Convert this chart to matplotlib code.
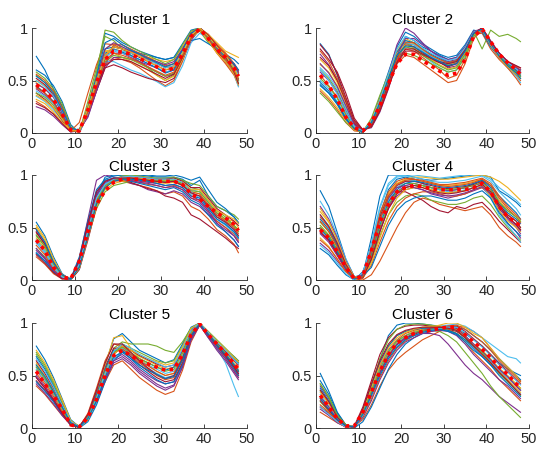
import numpy as np
import matplotlib
matplotlib.use("Agg")
import matplotlib.pyplot as plt

X = [1, 3, 5, 7, 9, 11, 13, 15, 17, 19, 21, 23, 25, 27, 29, 31, 33, 35, 37, 39, 41, 43, 45, 47, 48]

titles = ["Cluster 1", "Cluster 2", "Cluster 3", "Cluster 4", "Cluster 5", "Cluster 6"]

cluster1 = [
    [0.60,0.55,0.45,0.30,0.08,0.00,0.18,0.55,0.95,0.92,0.86,0.82,0.78,0.75,0.72,0.70,0.72,0.85,0.98,1.00,0.92,0.82,0.75,0.70,0.66],
    [0.30,0.25,0.18,0.10,0.02,0.01,0.20,0.45,0.65,0.72,0.70,0.67,0.62,0.56,0.50,0.45,0.50,0.68,0.90,0.98,0.88,0.76,0.66,0.55,0.45],
    [0.50,0.45,0.38,0.22,0.05,0.02,0.25,0.52,0.80,0.85,0.82,0.78,0.74,0.70,0.66,0.63,0.66,0.80,0.95,1.00,0.92,0.82,0.75,0.64,0.58],
    [0.42,0.36,0.28,0.15,0.03,0.03,0.15,0.40,0.62,0.72,0.72,0.70,0.68,0.65,0.62,0.58,0.60,0.72,0.90,1.00,0.94,0.84,0.74,0.62,0.52],
    [0.55,0.48,0.40,0.26,0.06,0.00,0.30,0.62,0.92,0.88,0.80,0.74,0.68,0.62,0.55,0.50,0.55,0.72,0.93,0.97,0.86,0.78,0.68,0.58,0.48],
    [0.35,0.30,0.22,0.12,0.02,0.04,0.20,0.42,0.68,0.68,0.64,0.60,0.57,0.53,0.49,0.44,0.48,0.64,0.86,0.95,0.90,0.80,0.70,0.56,0.44],
    [0.38,0.32,0.24,0.12,0.02,0.02,0.18,0.40,0.62,0.65,0.62,0.58,0.55,0.52,0.50,0.48,0.52,0.70,0.92,1.00,0.90,0.78,0.68,0.56,0.50],
    [0.73,0.60,0.42,0.25,0.05,0.02,0.25,0.55,0.80,0.82,0.80,0.78,0.76,0.74,0.72,0.70,0.72,0.82,0.88,0.90,0.85,0.80,0.72,0.64,0.60],
    [0.45,0.38,0.30,0.16,0.02,0.10,0.38,0.65,0.85,0.84,0.80,0.77,0.74,0.70,0.66,0.62,0.64,0.78,0.94,1.00,0.92,0.84,0.76,0.66,0.58],
    [0.48,0.42,0.34,0.20,0.04,0.01,0.22,0.50,0.78,0.80,0.78,0.76,0.74,0.72,0.70,0.68,0.70,0.82,0.96,1.00,0.94,0.86,0.78,0.74,0.72],
    [0.25,0.22,0.16,0.08,0.01,0.02,0.16,0.40,0.66,0.76,0.76,0.72,0.68,0.63,0.58,0.54,0.56,0.70,0.88,0.99,0.92,0.82,0.72,0.60,0.50],
    [0.58,0.52,0.42,0.28,0.06,0.01,0.24,0.58,0.98,0.96,0.88,0.82,0.78,0.74,0.70,0.66,0.70,0.84,0.97,1.00,0.90,0.80,0.72,0.62,0.56],
    [0.40,0.35,0.28,0.16,0.03,0.02,0.22,0.48,0.72,0.78,0.76,0.73,0.70,0.66,0.62,0.58,0.60,0.74,0.92,0.99,0.91,0.80,0.72,0.60,0.50],
    [0.52,0.46,0.36,0.20,0.04,0.01,0.20,0.46,0.74,0.82,0.80,0.76,0.72,0.68,0.64,0.60,0.62,0.76,0.94,1.00,0.93,0.83,0.74,0.64,0.56],
    [0.44,0.38,0.30,0.17,0.03,0.02,0.24,0.52,0.76,0.80,0.77,0.74,0.70,0.66,0.62,0.57,0.60,0.74,0.92,1.00,0.90,0.80,0.70,0.60,0.52],
    [0.56,0.50,0.40,0.24,0.05,0.01,0.18,0.44,0.70,0.84,0.84,0.80,0.76,0.72,0.68,0.64,0.66,0.78,0.94,1.00,0.92,0.84,0.76,0.66,0.60],
    [0.32,0.28,0.20,0.10,0.02,0.03,0.26,0.54,0.78,0.76,0.72,0.68,0.64,0.60,0.55,0.50,0.54,0.70,0.90,0.98,0.88,0.76,0.68,0.56,0.46],
    [0.47,0.42,0.34,0.19,0.04,0.01,0.20,0.50,0.80,0.86,0.82,0.78,0.75,0.71,0.68,0.65,0.68,0.80,0.95,1.00,0.90,0.80,0.72,0.64,0.58],
    [0.38,0.34,0.26,0.14,0.02,0.02,0.22,0.46,0.68,0.74,0.72,0.70,0.66,0.62,0.58,0.54,0.57,0.72,0.90,0.99,0.92,0.82,0.72,0.60,0.50],
    [0.50,0.44,0.35,0.21,0.05,0.01,0.19,0.47,0.72,0.79,0.78,0.76,0.73,0.69,0.66,0.62,0.64,0.77,0.93,1.00,0.91,0.81,0.73,0.63,0.55],
    [0.28,0.24,0.18,0.09,0.01,0.03,0.21,0.44,0.64,0.70,0.70,0.68,0.64,0.60,0.56,0.52,0.56,0.72,0.91,1.00,0.93,0.83,0.73,0.58,0.47],
    [0.54,0.48,0.38,0.22,0.05,0.02,0.24,0.54,0.86,0.90,0.84,0.79,0.75,0.71,0.67,0.63,0.66,0.79,0.95,1.00,0.91,0.81,0.73,0.66,0.60],
    [0.43,0.38,0.29,0.16,0.03,0.02,0.20,0.45,0.70,0.76,0.74,0.71,0.67,0.63,0.59,0.55,0.58,0.73,0.91,0.99,0.90,0.79,0.70,0.59,0.51],
    [0.36,0.31,0.24,0.13,0.02,0.02,0.23,0.50,0.74,0.82,0.80,0.77,0.73,0.68,0.64,0.60,0.63,0.76,0.93,1.00,0.92,0.82,0.74,0.62,0.53],
]
mean1 = [0.46,0.40,0.32,0.18,0.03,0.02,0.22,0.48,0.70,0.78,0.77,0.75,0.71,0.67,0.63,0.59,0.62,0.75,0.92,0.99,0.90,0.80,0.72,0.62,0.54]

cluster2 = [
    [0.85,0.75,0.55,0.30,0.10,0.02,0.08,0.25,0.50,0.75,0.92,0.88,0.82,0.78,0.74,0.70,0.72,0.82,0.96,0.98,0.84,0.74,0.66,0.62,0.60],
    [0.40,0.32,0.22,0.10,0.02,0.01,0.10,0.28,0.48,0.70,0.80,0.78,0.72,0.66,0.60,0.52,0.55,0.70,0.94,0.95,0.80,0.70,0.62,0.55,0.50],
    [0.65,0.58,0.45,0.25,0.08,0.02,0.12,0.32,0.55,0.80,0.90,0.86,0.80,0.74,0.70,0.66,0.68,0.80,0.96,0.99,0.86,0.75,0.66,0.60,0.58],
    [0.75,0.65,0.50,0.30,0.10,0.03,0.05,0.20,0.42,0.68,0.85,0.84,0.78,0.72,0.68,0.62,0.64,0.76,0.92,1.00,0.88,0.76,0.68,0.62,0.58],
    [0.60,0.52,0.40,0.22,0.06,0.01,0.10,0.30,0.52,0.76,0.86,0.82,0.76,0.72,0.68,0.65,0.68,0.80,0.97,0.80,0.98,0.92,0.94,0.90,0.87],
    [0.50,0.42,0.30,0.15,0.04,0.01,0.08,0.26,0.50,0.72,0.82,0.80,0.74,0.68,0.62,0.58,0.60,0.74,0.94,0.98,0.84,0.72,0.62,0.54,0.48],
    [0.80,0.70,0.58,0.38,0.14,0.03,0.06,0.22,0.45,0.66,0.78,0.78,0.74,0.70,0.67,0.64,0.67,0.78,0.95,1.00,0.87,0.76,0.68,0.64,0.62],
    [0.45,0.38,0.28,0.14,0.04,0.00,0.12,0.34,0.58,0.82,0.96,0.92,0.85,0.80,0.75,0.72,0.74,0.84,0.98,0.96,0.82,0.72,0.64,0.58,0.54],
    [0.55,0.45,0.34,0.18,0.05,0.01,0.08,0.24,0.46,0.66,0.74,0.72,0.66,0.60,0.54,0.48,0.50,0.66,0.90,0.98,0.84,0.72,0.62,0.52,0.46],
    [0.70,0.62,0.48,0.28,0.08,0.02,0.10,0.30,0.54,0.78,0.88,0.85,0.79,0.74,0.70,0.66,0.67,0.78,0.96,0.98,0.85,0.74,0.66,0.60,0.56],
    [0.58,0.50,0.38,0.20,0.06,0.02,0.10,0.30,0.56,0.84,1.00,0.95,0.86,0.78,0.72,0.68,0.70,0.80,0.95,0.97,0.86,0.76,0.68,0.62,0.58],
    [0.38,0.30,0.20,0.10,0.03,0.01,0.14,0.36,0.56,0.72,0.76,0.74,0.70,0.66,0.62,0.58,0.60,0.72,0.92,0.99,0.86,0.74,0.64,0.56,0.52],
    [0.62,0.54,0.42,0.24,0.07,0.02,0.09,0.28,0.52,0.76,0.86,0.84,0.78,0.73,0.69,0.66,0.68,0.78,0.95,0.99,0.86,0.75,0.67,0.61,0.58],
    [0.72,0.64,0.50,0.30,0.09,0.02,0.07,0.24,0.47,0.72,0.84,0.82,0.76,0.71,0.67,0.63,0.66,0.78,0.95,1.00,0.86,0.75,0.66,0.60,0.57],
    [0.48,0.40,0.29,0.14,0.04,0.01,0.11,0.30,0.53,0.77,0.88,0.86,0.80,0.75,0.71,0.67,0.69,0.80,0.96,0.98,0.85,0.74,0.66,0.59,0.55],
    [0.78,0.68,0.52,0.32,0.11,0.03,0.06,0.22,0.44,0.70,0.86,0.86,0.80,0.74,0.70,0.67,0.69,0.80,0.96,0.99,0.86,0.75,0.67,0.63,0.60],
    [0.42,0.34,0.24,0.12,0.03,0.01,0.12,0.32,0.54,0.76,0.84,0.81,0.75,0.70,0.65,0.61,0.63,0.76,0.94,0.98,0.84,0.72,0.63,0.56,0.52],
    [0.66,0.57,0.44,0.26,0.08,0.02,0.08,0.26,0.50,0.74,0.90,0.90,0.84,0.78,0.73,0.70,0.72,0.82,0.97,0.99,0.86,0.76,0.68,0.62,0.60],
    [0.52,0.44,0.33,0.17,0.05,0.01,0.09,0.27,0.51,0.74,0.82,0.80,0.74,0.69,0.64,0.60,0.62,0.75,0.94,0.99,0.86,0.74,0.65,0.58,0.54],
    [0.60,0.50,0.37,0.20,0.06,0.02,0.11,0.31,0.56,0.80,0.92,0.88,0.81,0.76,0.72,0.69,0.71,0.81,0.96,0.99,0.85,0.75,0.67,0.61,0.57],
    [0.84,0.74,0.56,0.34,0.12,0.03,0.06,0.21,0.43,0.67,0.80,0.80,0.75,0.71,0.68,0.66,0.68,0.79,0.95,1.00,0.87,0.76,0.68,0.64,0.62],
    [0.46,0.38,0.27,0.13,0.04,0.01,0.10,0.29,0.52,0.74,0.83,0.82,0.77,0.72,0.68,0.64,0.66,0.78,0.95,0.99,0.85,0.73,0.64,0.57,0.52],
]
mean2 = [0.55,0.45,0.32,0.15,0.05,0.02,0.10,0.26,0.47,0.66,0.75,0.75,0.69,0.64,0.59,0.55,0.57,0.70,0.92,0.99,0.87,0.75,0.67,0.60,0.56]

cluster3 = [
    [0.55,0.42,0.22,0.06,0.00,0.10,0.42,0.80,0.98,1.00,1.00,1.00,1.00,0.99,0.98,0.98,0.98,0.96,0.90,0.95,0.80,0.70,0.66,0.60,0.55],
    [0.22,0.15,0.06,0.01,0.01,0.18,0.50,0.80,0.92,0.95,0.94,0.92,0.90,0.88,0.85,0.82,0.84,0.80,0.70,0.66,0.58,0.48,0.42,0.34,0.26],
    [0.40,0.30,0.14,0.03,0.00,0.14,0.45,0.74,0.88,0.95,0.97,0.97,0.96,0.95,0.95,0.94,0.95,0.90,0.82,0.80,0.72,0.64,0.58,0.50,0.46],
    [0.48,0.36,0.18,0.05,0.01,0.20,0.58,0.95,1.00,0.98,0.96,0.92,0.90,0.86,0.84,0.82,0.85,0.82,0.74,0.70,0.62,0.56,0.50,0.42,0.36],
    [0.30,0.22,0.10,0.02,0.00,0.12,0.40,0.68,0.84,0.90,0.92,0.94,0.95,0.96,0.96,0.96,0.97,0.95,0.92,0.90,0.80,0.70,0.66,0.62,0.58],
    [0.35,0.26,0.12,0.03,0.01,0.16,0.48,0.78,0.92,0.97,0.98,0.98,0.97,0.96,0.96,0.95,0.96,0.92,0.86,0.84,0.74,0.62,0.56,0.48,0.42],
    [0.45,0.34,0.16,0.04,0.00,0.10,0.38,0.70,0.90,0.96,0.95,0.93,0.90,0.87,0.85,0.80,0.78,0.74,0.62,0.58,0.52,0.46,0.40,0.33,0.30],
    [0.25,0.18,0.08,0.02,0.01,0.22,0.56,0.86,0.96,0.99,1.00,1.00,1.00,1.00,0.99,0.99,1.00,0.98,0.95,0.98,0.86,0.74,0.68,0.60,0.54],
    [0.38,0.28,0.12,0.03,0.00,0.14,0.44,0.76,0.90,0.94,0.95,0.94,0.93,0.91,0.90,0.88,0.90,0.86,0.78,0.76,0.66,0.56,0.50,0.44,0.38],
    [0.52,0.40,0.20,0.05,0.01,0.12,0.42,0.72,0.86,0.92,0.94,0.95,0.95,0.94,0.93,0.92,0.93,0.90,0.84,0.82,0.70,0.60,0.58,0.56,0.50],
    [0.28,0.20,0.09,0.02,0.00,0.16,0.50,0.82,0.94,0.97,0.97,0.96,0.94,0.93,0.92,0.90,0.91,0.88,0.80,0.76,0.66,0.54,0.46,0.38,0.32],
    [0.42,0.32,0.15,0.04,0.00,0.12,0.46,0.76,0.90,0.96,0.99,1.00,0.99,0.98,0.97,0.97,0.98,0.95,0.88,0.86,0.76,0.66,0.60,0.52,0.48],
    [0.36,0.26,0.11,0.03,0.00,0.15,0.47,0.78,0.92,0.96,0.97,0.97,0.96,0.95,0.94,0.93,0.94,0.90,0.82,0.80,0.70,0.60,0.54,0.46,0.40],
    [0.46,0.34,0.16,0.04,0.00,0.13,0.43,0.74,0.90,0.96,0.98,0.98,0.98,0.97,0.96,0.96,0.97,0.94,0.88,0.88,0.78,0.68,0.62,0.56,0.52],
    [0.26,0.18,0.08,0.02,0.01,0.18,0.52,0.84,0.95,0.97,0.96,0.94,0.92,0.90,0.88,0.86,0.88,0.84,0.76,0.72,0.62,0.52,0.46,0.38,0.32],
    [0.33,0.24,0.10,0.02,0.00,0.14,0.45,0.76,0.90,0.95,0.96,0.96,0.95,0.94,0.94,0.93,0.94,0.91,0.84,0.82,0.72,0.62,0.56,0.50,0.44],
    [0.50,0.38,0.19,0.05,0.01,0.11,0.40,0.70,0.88,0.95,0.97,0.97,0.97,0.96,0.95,0.95,0.96,0.93,0.86,0.86,0.76,0.66,0.62,0.58,0.54],
    [0.30,0.21,0.09,0.02,0.00,0.17,0.50,0.80,0.93,0.96,0.96,0.95,0.93,0.92,0.90,0.88,0.89,0.86,0.78,0.74,0.64,0.54,0.48,0.42,0.36],
    [0.43,0.32,0.15,0.04,0.00,0.13,0.44,0.75,0.90,0.95,0.96,0.96,0.96,0.95,0.95,0.94,0.95,0.92,0.85,0.84,0.74,0.64,0.58,0.52,0.46],
    [0.38,0.28,0.13,0.03,0.00,0.15,0.47,0.78,0.91,0.96,0.98,0.99,0.98,0.97,0.96,0.96,0.96,0.93,0.84,0.78,0.68,0.58,0.52,0.45,0.40],
    [0.24,0.16,0.07,0.01,0.01,0.19,0.54,0.84,0.94,0.97,0.97,0.97,0.96,0.95,0.94,0.93,0.94,0.90,0.83,0.80,0.70,0.60,0.55,0.48,0.42],
    [0.48,0.36,0.17,0.05,0.01,0.12,0.41,0.72,0.88,0.94,0.96,0.96,0.95,0.94,0.92,0.90,0.91,0.88,0.80,0.78,0.68,0.58,0.53,0.46,0.40],
]
mean3 = [0.38,0.28,0.12,0.03,0.01,0.18,0.46,0.72,0.85,0.93,0.96,0.96,0.96,0.95,0.94,0.94,0.94,0.91,0.82,0.77,0.70,0.64,0.59,0.53,0.47]

cluster4 = [
    [0.85,0.70,0.45,0.20,0.03,0.05,0.40,0.80,1.00,1.00,1.00,0.98,0.96,0.95,0.96,0.97,0.98,0.99,1.00,1.00,0.98,0.85,0.80,0.74,0.70],
    [0.50,0.40,0.26,0.10,0.01,0.00,0.05,0.18,0.34,0.50,0.64,0.74,0.78,0.76,0.72,0.70,0.68,0.66,0.68,0.70,0.62,0.50,0.42,0.36,0.32],
    [0.65,0.55,0.38,0.18,0.02,0.03,0.30,0.62,0.82,0.92,0.95,0.96,0.94,0.92,0.90,0.90,0.91,0.92,0.94,0.96,0.90,0.76,0.66,0.60,0.56],
    [0.35,0.28,0.18,0.08,0.01,0.06,0.22,0.48,0.68,0.80,0.86,0.88,0.86,0.82,0.80,0.78,0.80,0.82,0.85,0.88,0.80,0.68,0.58,0.50,0.44],
    [0.55,0.46,0.32,0.14,0.02,0.02,0.18,0.42,0.62,0.74,0.80,0.82,0.80,0.76,0.74,0.72,0.72,0.74,0.78,0.80,0.72,0.60,0.50,0.42,0.38],
    [0.75,0.62,0.42,0.20,0.03,0.03,0.35,0.70,0.92,0.99,1.00,1.00,0.99,0.98,0.97,0.98,0.99,1.00,1.00,1.00,0.96,0.88,0.82,0.76,0.72],
    [0.45,0.38,0.24,0.10,0.01,0.04,0.26,0.56,0.76,0.84,0.84,0.80,0.76,0.70,0.66,0.64,0.70,0.68,0.72,0.74,0.66,0.56,0.48,0.40,0.36],
    [0.30,0.24,0.14,0.05,0.00,0.08,0.30,0.62,0.86,0.96,0.98,0.96,0.92,0.88,0.86,0.85,0.86,0.88,0.92,0.95,0.90,0.80,0.72,0.64,0.58],
    [0.60,0.50,0.34,0.15,0.02,0.02,0.14,0.36,0.56,0.70,0.78,0.82,0.84,0.84,0.82,0.80,0.80,0.82,0.86,0.88,0.82,0.70,0.60,0.52,0.48],
    [0.40,0.32,0.20,0.08,0.01,0.05,0.28,0.60,0.82,0.92,0.96,0.98,0.98,0.97,0.96,0.96,0.97,0.98,0.99,1.00,0.98,0.94,0.88,0.80,0.76],
    [0.70,0.58,0.40,0.18,0.03,0.02,0.20,0.46,0.70,0.84,0.90,0.92,0.90,0.88,0.86,0.85,0.86,0.88,0.90,0.92,0.82,0.66,0.54,0.46,0.40],
    [0.50,0.42,0.28,0.12,0.02,0.04,0.26,0.56,0.78,0.88,0.92,0.92,0.90,0.86,0.84,0.83,0.84,0.85,0.88,0.90,0.84,0.72,0.62,0.56,0.50],
    [0.62,0.52,0.36,0.16,0.02,0.03,0.24,0.54,0.76,0.88,0.94,0.95,0.92,0.88,0.86,0.84,0.84,0.86,0.88,0.90,0.78,0.62,0.52,0.42,0.36],
    [0.46,0.38,0.25,0.11,0.01,0.04,0.30,0.60,0.80,0.90,0.94,0.94,0.92,0.90,0.88,0.87,0.88,0.89,0.91,0.94,0.86,0.72,0.62,0.56,0.50],
    [0.58,0.48,0.33,0.14,0.02,0.03,0.24,0.52,0.74,0.86,0.92,0.94,0.93,0.91,0.89,0.88,0.89,0.90,0.92,0.95,0.88,0.74,0.64,0.58,0.54],
    [0.38,0.31,0.20,0.08,0.01,0.05,0.32,0.64,0.84,0.94,0.97,0.96,0.94,0.92,0.90,0.89,0.90,0.91,0.93,0.96,0.90,0.78,0.68,0.60,0.55],
    [0.68,0.56,0.38,0.17,0.03,0.02,0.16,0.40,0.62,0.78,0.86,0.88,0.88,0.86,0.84,0.83,0.84,0.85,0.88,0.90,0.80,0.66,0.56,0.50,0.46],
    [0.44,0.36,0.23,0.10,0.01,0.05,0.28,0.58,0.78,0.88,0.90,0.88,0.86,0.83,0.81,0.80,0.81,0.83,0.86,0.89,0.82,0.70,0.60,0.52,0.47],
    [0.52,0.43,0.29,0.12,0.02,0.03,0.22,0.50,0.72,0.84,0.88,0.90,0.90,0.88,0.87,0.86,0.87,0.88,0.90,0.93,0.86,0.74,0.66,0.60,0.56],
    [0.33,0.26,0.16,0.06,0.00,0.07,0.34,0.68,0.90,0.98,0.99,0.98,0.96,0.94,0.93,0.93,0.94,0.95,0.97,0.99,0.94,0.84,0.76,0.68,0.62],
    [0.62,0.51,0.35,0.15,0.02,0.02,0.20,0.46,0.68,0.82,0.88,0.90,0.88,0.85,0.83,0.82,0.83,0.85,0.88,0.91,0.84,0.70,0.60,0.53,0.48],
    [0.48,0.40,0.27,0.12,0.01,0.04,0.12,0.32,0.52,0.66,0.74,0.78,0.80,0.80,0.78,0.76,0.76,0.78,0.82,0.85,0.78,0.64,0.54,0.46,0.42],
    [0.56,0.46,0.31,0.13,0.02,0.03,0.27,0.57,0.80,0.91,0.95,0.96,0.95,0.93,0.91,0.91,0.92,0.93,0.95,0.97,0.92,0.80,0.70,0.62,0.58],
]
mean4 = [0.48,0.40,0.27,0.12,0.01,0.04,0.28,0.55,0.72,0.84,0.88,0.90,0.89,0.87,0.86,0.86,0.86,0.86,0.88,0.92,0.84,0.70,0.60,0.55,0.51]

cluster5 = [
    [0.78,0.65,0.48,0.28,0.08,0.01,0.08,0.30,0.60,0.85,0.90,0.82,0.74,0.70,0.66,0.62,0.65,0.80,0.96,1.00,0.90,0.82,0.74,0.68,0.64],
    [0.40,0.32,0.22,0.12,0.03,0.00,0.10,0.25,0.44,0.60,0.64,0.56,0.48,0.42,0.36,0.32,0.35,0.55,0.82,0.98,0.86,0.76,0.66,0.54,0.48],
    [0.62,0.50,0.36,0.20,0.05,0.01,0.12,0.32,0.55,0.74,0.80,0.74,0.68,0.64,0.60,0.56,0.58,0.72,0.92,1.00,0.90,0.80,0.72,0.62,0.58],
    [0.50,0.40,0.28,0.15,0.03,0.02,0.10,0.28,0.50,0.66,0.70,0.64,0.56,0.50,0.45,0.42,0.44,0.62,0.86,0.99,0.88,0.78,0.68,0.58,0.52],
    [0.70,0.58,0.42,0.24,0.06,0.02,0.10,0.30,0.55,0.76,0.82,0.80,0.80,0.80,0.78,0.74,0.72,0.82,0.95,0.98,0.88,0.80,0.72,0.66,0.62],
    [0.58,0.46,0.34,0.18,0.04,0.01,0.08,0.24,0.45,0.66,0.74,0.68,0.62,0.57,0.52,0.48,0.50,0.66,0.88,1.00,0.86,0.76,0.62,0.40,0.30],
    [0.45,0.36,0.26,0.14,0.03,0.01,0.12,0.34,0.58,0.76,0.76,0.68,0.60,0.54,0.48,0.44,0.46,0.62,0.86,0.98,0.90,0.80,0.70,0.58,0.50],
    [0.68,0.56,0.40,0.22,0.05,0.00,0.06,0.22,0.44,0.64,0.72,0.70,0.66,0.62,0.58,0.55,0.58,0.74,0.94,1.00,0.90,0.82,0.74,0.66,0.62],
    [0.55,0.44,0.32,0.18,0.04,0.01,0.14,0.38,0.64,0.80,0.78,0.70,0.62,0.56,0.50,0.46,0.48,0.64,0.88,0.99,0.88,0.78,0.68,0.56,0.50],
    [0.60,0.48,0.34,0.18,0.04,0.01,0.10,0.32,0.60,0.86,0.88,0.76,0.66,0.60,0.54,0.50,0.52,0.68,0.90,1.00,0.88,0.78,0.70,0.60,0.54],
    [0.48,0.38,0.26,0.14,0.03,0.02,0.10,0.26,0.46,0.62,0.66,0.60,0.52,0.46,0.40,0.36,0.40,0.58,0.84,0.98,0.86,0.74,0.64,0.52,0.46],
    [0.72,0.60,0.44,0.26,0.07,0.01,0.08,0.28,0.52,0.72,0.80,0.76,0.72,0.68,0.64,0.62,0.64,0.78,0.95,1.00,0.92,0.84,0.76,0.68,0.64],
    [0.56,0.45,0.33,0.19,0.04,0.01,0.10,0.28,0.52,0.72,0.76,0.70,0.64,0.60,0.56,0.52,0.54,0.69,0.90,1.00,0.89,0.80,0.71,0.61,0.56],
    [0.64,0.52,0.38,0.22,0.05,0.01,0.09,0.27,0.50,0.70,0.78,0.74,0.69,0.65,0.61,0.58,0.60,0.74,0.93,1.00,0.90,0.81,0.73,0.64,0.60],
    [0.44,0.35,0.25,0.13,0.03,0.01,0.12,0.32,0.56,0.74,0.74,0.66,0.58,0.52,0.46,0.42,0.44,0.60,0.86,0.99,0.88,0.78,0.68,0.56,0.50],
    [0.52,0.42,0.30,0.16,0.04,0.01,0.11,0.30,0.54,0.72,0.75,0.70,0.64,0.59,0.54,0.50,0.52,0.67,0.89,0.99,0.89,0.79,0.70,0.60,0.55],
    [0.74,0.62,0.46,0.27,0.07,0.01,0.08,0.26,0.50,0.70,0.78,0.74,0.70,0.66,0.63,0.60,0.62,0.77,0.95,1.00,0.91,0.83,0.75,0.67,0.63],
    [0.42,0.33,0.23,0.12,0.03,0.01,0.10,0.26,0.46,0.64,0.68,0.62,0.54,0.48,0.42,0.38,0.41,0.58,0.84,0.98,0.87,0.76,0.66,0.54,0.48],
    [0.58,0.47,0.34,0.19,0.04,0.01,0.10,0.29,0.53,0.72,0.77,0.72,0.66,0.62,0.58,0.54,0.56,0.71,0.91,1.00,0.89,0.80,0.71,0.60,0.54],
    [0.66,0.54,0.39,0.22,0.06,0.01,0.09,0.28,0.52,0.73,0.80,0.76,0.70,0.66,0.62,0.58,0.60,0.75,0.93,1.00,0.91,0.82,0.74,0.65,0.61],
    [0.48,0.38,0.27,0.14,0.03,0.01,0.13,0.36,0.62,0.80,0.80,0.72,0.64,0.57,0.51,0.47,0.50,0.66,0.88,0.99,0.89,0.79,0.69,0.58,0.52],
    [0.60,0.49,0.35,0.20,0.05,0.01,0.09,0.26,0.48,0.68,0.72,0.66,0.60,0.55,0.51,0.47,0.49,0.65,0.88,0.99,0.89,0.79,0.70,0.60,0.54],
]
mean5 = [0.54,0.42,0.31,0.18,0.03,0.01,0.10,0.27,0.50,0.69,0.74,0.69,0.64,0.61,0.58,0.55,0.56,0.70,0.89,0.99,0.89,0.80,0.71,0.61,0.56]

cluster6 = [
    [0.52,0.35,0.15,0.03,0.00,0.12,0.38,0.65,0.88,0.98,1.00,1.00,0.99,0.98,0.97,0.96,0.95,0.90,0.84,0.78,0.70,0.62,0.56,0.52,0.50],
    [0.15,0.10,0.05,0.01,0.02,0.08,0.22,0.40,0.55,0.65,0.72,0.78,0.84,0.88,0.92,0.95,0.97,0.96,0.92,0.86,0.76,0.66,0.58,0.50,0.45],
    [0.30,0.20,0.08,0.02,0.01,0.18,0.42,0.62,0.78,0.88,0.92,0.94,0.95,0.96,0.97,0.97,0.96,0.88,0.78,0.70,0.62,0.54,0.46,0.38,0.34],
    [0.40,0.28,0.12,0.02,0.01,0.16,0.40,0.60,0.74,0.82,0.86,0.88,0.90,0.90,0.88,0.80,0.70,0.60,0.52,0.46,0.38,0.30,0.24,0.18,0.15],
    [0.25,0.16,0.07,0.02,0.01,0.14,0.34,0.54,0.70,0.80,0.86,0.90,0.92,0.93,0.92,0.88,0.82,0.72,0.62,0.52,0.40,0.30,0.22,0.14,0.10],
    [0.35,0.24,0.10,0.02,0.01,0.10,0.28,0.50,0.68,0.80,0.88,0.92,0.95,0.96,0.97,0.98,0.99,0.97,0.92,0.86,0.80,0.74,0.68,0.66,0.62],
    [0.20,0.14,0.06,0.01,0.02,0.20,0.45,0.70,0.86,0.94,0.97,0.98,0.98,0.97,0.96,0.94,0.92,0.86,0.78,0.72,0.64,0.55,0.48,0.40,0.36],
    [0.45,0.32,0.14,0.03,0.00,0.06,0.20,0.38,0.56,0.70,0.80,0.86,0.90,0.92,0.94,0.96,0.96,0.94,0.88,0.82,0.74,0.66,0.58,0.50,0.46],
    [0.28,0.18,0.08,0.02,0.01,0.14,0.36,0.58,0.74,0.84,0.90,0.93,0.95,0.96,0.96,0.94,0.90,0.82,0.72,0.64,0.56,0.46,0.38,0.30,0.26],
    [0.36,0.24,0.10,0.02,0.01,0.12,0.32,0.52,0.70,0.82,0.88,0.92,0.94,0.96,0.98,1.00,1.00,0.96,0.90,0.86,0.76,0.66,0.58,0.50,0.44],
    [0.18,0.12,0.05,0.01,0.02,0.10,0.26,0.46,0.62,0.74,0.82,0.86,0.90,0.92,0.93,0.92,0.88,0.80,0.70,0.62,0.54,0.46,0.40,0.32,0.28],
    [0.42,0.30,0.12,0.03,0.01,0.16,0.40,0.66,0.84,0.94,0.98,0.99,0.99,0.98,0.96,0.93,0.90,0.84,0.78,0.72,0.64,0.56,0.48,0.42,0.38],
    [0.32,0.21,0.09,0.02,0.01,0.15,0.36,0.57,0.73,0.83,0.88,0.91,0.93,0.94,0.95,0.95,0.94,0.87,0.79,0.72,0.64,0.55,0.48,0.40,0.36],
    [0.26,0.17,0.07,0.01,0.01,0.13,0.32,0.52,0.68,0.79,0.85,0.89,0.92,0.94,0.96,0.97,0.97,0.92,0.85,0.78,0.70,0.61,0.54,0.46,0.42],
    [0.38,0.26,0.11,0.02,0.01,0.17,0.40,0.62,0.78,0.88,0.92,0.94,0.95,0.95,0.94,0.92,0.89,0.82,0.74,0.68,0.60,0.52,0.44,0.36,0.32],
    [0.22,0.15,0.06,0.01,0.02,0.11,0.28,0.48,0.64,0.76,0.83,0.88,0.91,0.93,0.95,0.97,0.98,0.94,0.88,0.82,0.74,0.64,0.56,0.48,0.44],
    [0.34,0.23,0.10,0.02,0.01,0.16,0.38,0.60,0.76,0.86,0.91,0.94,0.96,0.97,0.97,0.96,0.94,0.87,0.80,0.74,0.66,0.57,0.50,0.42,0.38],
    [0.30,0.20,0.08,0.02,0.01,0.14,0.33,0.53,0.69,0.80,0.86,0.90,0.93,0.95,0.96,0.96,0.95,0.88,0.80,0.73,0.65,0.56,0.49,0.40,0.36],
    [0.42,0.29,0.12,0.03,0.01,0.14,0.35,0.56,0.72,0.83,0.88,0.91,0.93,0.94,0.95,0.95,0.93,0.86,0.78,0.72,0.62,0.52,0.44,0.36,0.31],
    [0.20,0.13,0.06,0.01,0.02,0.12,0.30,0.50,0.66,0.78,0.84,0.88,0.91,0.93,0.95,0.96,0.96,0.91,0.84,0.77,0.69,0.60,0.53,0.45,0.41],
    [0.36,0.25,0.10,0.02,0.01,0.18,0.42,0.64,0.80,0.89,0.93,0.95,0.96,0.96,0.96,0.95,0.93,0.86,0.78,0.70,0.62,0.53,0.45,0.36,0.32],
    [0.28,0.18,0.08,0.02,0.01,0.13,0.31,0.50,0.66,0.77,0.84,0.88,0.91,0.93,0.94,0.93,0.90,0.84,0.76,0.68,0.60,0.50,0.42,0.34,0.30],
]
mean6 = [0.31,0.20,0.09,0.02,0.02,0.15,0.34,0.54,0.70,0.81,0.86,0.90,0.92,0.93,0.95,0.96,0.96,0.89,0.82,0.75,0.67,0.58,0.51,0.42,0.39]

clusters = [cluster1, cluster2, cluster3, cluster4, cluster5, cluster6]
means = [mean1, mean2, mean3, mean4, mean5, mean6]

matlab_colors = ["#0072BD", "#D95319", "#EDB120", "#7E2F8E", "#77AC30", "#4DBEEE", "#A2142F"]

plt.rcParams['font.family'] = ['Liberation Sans', 'DejaVu Sans']

fig = plt.figure(figsize=(5.39, 4.51), dpi=100)
W, H = 539, 451
lefts = [32, 316]
widths = [215, 213]
tops = [28, 175, 323]
ah = 105

for i in range(6):
    r, c = divmod(i, 2)
    ax = fig.add_axes([lefts[c] / W, 1 - (tops[r] + ah) / H, widths[c] / W, ah / H])
    for j, curve in enumerate(clusters[i]):
        ax.plot(X, curve, color=matlab_colors[j % 7], lw=0.8)
    ax.plot(X, means[i], color='red', ls=(0, (1, 1.2)), lw=2.6)
    ax.set_xlim(0, 50)
    ax.set_ylim(0, 1)
    ax.set_xticks([0, 10, 20, 30, 40, 50])
    ax.set_yticks([0, 0.5, 1])
    ax.set_yticklabels(["0", "0.5", "1"])
    for s in ['top', 'right']:
        ax.spines[s].set_visible(False)
    for s in ['left', 'bottom']:
        ax.spines[s].set_color('#262626')
        ax.spines[s].set_linewidth(0.6)
    ax.tick_params(direction='in', length=3, width=0.6, colors='#262626',
                   labelsize=10.5, pad=3)
    ax.set_title(titles[i], fontsize=11, color='#000000', pad=3)

fig.savefig("out.png", dpi=100)
